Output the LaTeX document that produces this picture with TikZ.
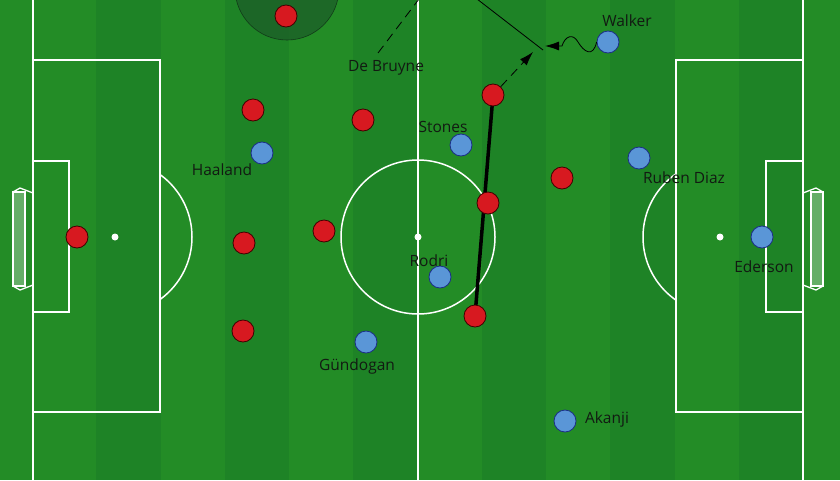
\documentclass[tikz,border=0pt]{standalone}
\usepackage{fontspec}
\setmainfont{Open Sans}
\usetikzlibrary{arrows.meta}
\definecolor{grassA}{RGB}{35,140,38}
\definecolor{grassB}{RGB}{30,131,38}
\definecolor{zone}{RGB}{28,98,40}
\definecolor{redp}{RGB}{215,25,32}
\definecolor{bluep}{RGB}{90,150,215}
\definecolor{txt}{RGB}{18,26,18}
\pgfdeclarelayer{grass}
\pgfdeclarelayer{bg}
\pgfsetlayers{grass,bg,main}
\begin{document}
\begin{tikzpicture}[x=1pt,y=-1pt,
  pline/.style={white,line width=1.5pt},
  redpl/.style={circle,draw=black!75!red,fill=redp,minimum size=22pt,inner sep=0pt,line width=0.8pt},
  bluepl/.style={circle,draw=black!60!blue!70!bluep,fill=bluep,minimum size=22pt,inner sep=0pt,line width=0.8pt},
  lbl/.style={text=txt,inner sep=0pt,font=\fontsize{15.5}{18}\selectfont},
  run/.style={black,line width=0.8pt},
  tip/.style={-{Latex[length=14pt,width=9pt]}}]
\useasboundingbox (0,0) rectangle (840,480);
\begin{pgfonlayer}{grass}
\fill[grassA] (0,0) rectangle (840,480);
\foreach \i in {0,...,11}{
  \ifodd\i \fill[grassB] ({32+64.25*\i},0) rectangle ({32+64.25*(\i+1)},480);
  \else \fill[grassA] ({32+64.25*\i},0) rectangle ({32+64.25*(\i+1)},480); \fi
}
% pitch lines
\draw[pline] (33,0) -- (33,480);
\draw[pline] (803,0) -- (803,480);
\draw[pline] (418,0) -- (418,480);
\draw[pline] (418,237) circle (77);
\fill[white] (418,237) circle (3.5);
\draw[pline] (33,60) rectangle (160,412);
\draw[pline] (33,161) rectangle (69,312);
\fill[white] (115,237) circle (3.5);
\begin{scope}\clip (160,0) rectangle (300,480); \draw[pline] (115,237) circle (77); \end{scope}
\draw[pline] (676,60) rectangle (803,412);
\draw[pline] (766,161) rectangle (803,312);
\fill[white] (720,237) circle (3.5);
\begin{scope}\clip (560,0) rectangle (676,480); \draw[pline] (720,237) circle (77); \end{scope}
% goals
\fill[white,opacity=0.3] (13,192) rectangle (25,286);
\draw[white,line width=1.3pt] (13,192) rectangle (25,286);
\draw[white,line width=1.3pt] (13,192) -- (20,188) -- (33,193);
\draw[white,line width=1.3pt] (13,286) -- (20,290) -- (33,285);
\fill[white,opacity=0.3] (811,192) rectangle (823,286);
\draw[white,line width=1.3pt] (811,192) rectangle (823,286);
\draw[white,line width=1.3pt] (823,192) -- (816,188) -- (803,193);
\draw[white,line width=1.3pt] (823,286) -- (816,290) -- (803,285);
% zone
\fill[zone,opacity=0.85] (287,-12) circle (52);
\draw[black!40!zone,line width=0.6pt] (287,-12) circle (52);
\end{pgfonlayer}

% red players
\node[redpl] (r1) at (286,16) {};
\node[redpl] (r2) at (253,110) {};
\node[redpl] (r3) at (363,120) {};
\node[redpl] (r4) at (493,95) {};
\node[redpl] (r5) at (562,178) {};
\node[redpl] (r6) at (488,203) {};
\node[redpl] (r7) at (324,231) {};
\node[redpl] (r8) at (244,243) {};
\node[redpl] (r9) at (77,237) {};
\node[redpl] (r10) at (243,331) {};
\node[redpl] (r11) at (475,316) {};
% blue players
\node[bluepl] (walker) at (608,42) {};
\node[bluepl] (stones) at (461,145) {};
\node[bluepl] (haaland) at (262,153) {};
\node[bluepl] (ruben) at (639,158) {};
\node[bluepl] (rodri) at (440,277) {};
\node[bluepl] (ederson) at (762,237) {};
\node[bluepl] (gundogan) at (366,342) {};
\node[bluepl] (akanji) at (565,421) {};
% labels
\node[lbl] (tdb) at (386,68) {De Bruyne};
\node[lbl] (twalker) at (627,21) {Walker};
\node[lbl] (tstones) at (443,127) {Stones};
\node[lbl] (thaaland) at (222,170) {Haaland};
\node[lbl] (truben) at (684,178) {Ruben Diaz};
\node[lbl] (trodri) at (429,261) {Rodri};
\node[lbl] (tederson) at (764,267) {Ederson};
\node[lbl] (tgundogan) at (357,366) {Gündogan};
\node[lbl] (takanji) at (607,419) {Akanji};

% connectors
\coordinate (db1) at (378,53);
\coordinate (db2) at (419,-1);
\coordinate (s1) at (477,-1);
\coordinate (s2) at (543,50);
\coordinate (p1) at (533,52);
\coordinate (p2) at (545,46);
\begin{pgfonlayer}{bg}
\draw[line width=3.5pt] (r4.center) -- (r11.center);
\end{pgfonlayer}
\draw[run,dash pattern=on 9pt off 6pt] (db1) -- (db2);
\draw[run] (s1) -- (s2);
\draw[run,dash pattern=on 9pt off 6pt,tip] (r4) -- (p1);
\draw[run,tip] (walker.west) .. controls (593,58) and (584,52) .. (578,42)
  .. controls (573,33) and (565,36) .. (562,46) -- (p2);
\end{tikzpicture}
\end{document}
